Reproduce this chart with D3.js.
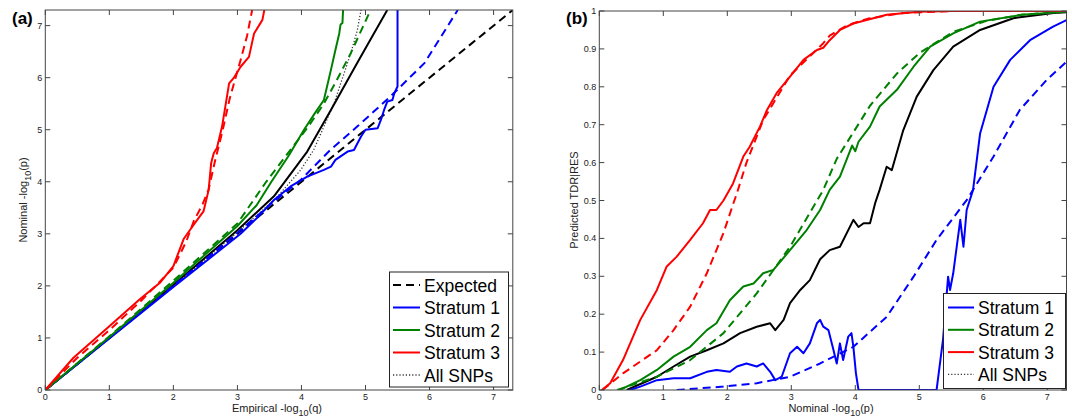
<!DOCTYPE html>
<html><head><meta charset="utf-8">
<script src="https://cdn.jsdelivr.net/npm/d3@7"></script>
<style>
body{margin:0;background:#fff;}
svg{display:block;font-family:"Liberation Sans",Arial,sans-serif;}
</style></head>
<body><svg id="c" width="1072" height="420"></svg>
<script>
// ---------- DATA ----------
const ticksA = [0,1,2,3,4,5,6,7];
const ticksBy = [0,0.1,0.2,0.3,0.4,0.5,0.6,0.7,0.8,0.9,1];
const legendA = ["Expected","Stratum 1","Stratum 2","Stratum 3","All SNPs"];
const legendB = ["Stratum 1","Stratum 2","Stratum 3","All SNPs"];

// panel (a): [empirical -log10(q), nominal -log10(p)]
const expectedA = [[0,0],[7.3,7.3]];
const s1SolidA = [[0,0],[1,0.99],[2,1.98],[3.05,3.0],[3.3,3.3],[3.57,3.65],[3.83,3.91],[4.09,4.1],[4.35,4.23],[4.46,4.29],[4.53,4.42],[4.72,4.58],[4.82,4.61],[4.93,4.87],[5.0,5.0],[5.19,5.03],[5.24,5.19],[5.29,5.38],[5.34,5.54],[5.42,5.57],[5.45,5.7],[5.5,5.83],[5.5,7.3]];
const s1DashA = [[0,0],[1,1.0],[2,2.0],[3,3.02],[3.5,3.55],[4,4.05],[4.45,4.61],[4.87,5.06],[5.39,5.64],[5.92,6.28],[6.44,7.3]];
const s2SolidA = [[0,0],[1,1.02],[2,2.06],[3,3.15],[3.3,3.55],[3.53,4.0],[3.8,4.5],[4.04,5.0],[4.2,5.3],[4.35,5.57],[4.46,6.15],[4.53,6.53],[4.59,6.85],[4.61,7.02],[4.64,7.05],[4.65,7.3]];
const s2DashA = [[0,0],[1,1.03],[2,2.1],[3,3.2],[3.45,4.0],[3.82,4.6],[4.1,5.05],[4.35,5.5],[4.55,5.95],[4.77,6.47],[4.93,6.9],[5.08,7.3]];
const s3SolidA = [[0,0],[0.44,0.62],[0.96,1.18],[1.48,1.75],[1.79,2.06],[2.0,2.38],[2.16,2.9],[2.32,3.18],[2.47,3.43],[2.55,3.84],[2.59,4.36],[2.63,4.55],[2.68,4.65],[2.76,5.06],[2.87,5.89],[2.94,5.99],[3.05,6.21],[3.18,6.4],[3.26,6.85],[3.39,7.11],[3.42,7.3]];
const s3DashA = [[0,0],[0.5,0.62],[1,1.15],[1.5,1.72],[2.0,2.35],[2.2,2.85],[2.32,3.25],[2.45,3.55],[2.55,3.85],[2.65,4.4],[2.76,4.94],[2.88,5.6],[3.05,6.34],[3.15,6.8],[3.23,7.3]];
const allFitA = [[0,0],[1,1.0],[2,2.02],[3,3.07],[3.57,3.72],[4.09,4.58],[4.46,5.38],[4.87,6.28],[5.1,6.78],[5.34,7.3]];
const allSnpsA = [[0,0],[1,1.0],[2,2.0],[3,3.03],[3.6,3.68],[3.99,4.23],[4.19,4.61],[4.51,5.51],[4.77,6.47],[4.87,6.9],[4.93,7.3]];

// panel (b): [nominal -log10(p), predicted TDR|RES]
const s1SolidB = [[0.48,0],[0.64,0.009],[0.9,0.026],[1.16,0.031],[1.42,0.031],[1.68,0.048],[1.83,0.053],[2.04,0.048],[2.15,0.062],[2.3,0.07],[2.46,0.062],[2.56,0.07],[2.67,0.048],[2.75,0.026],[2.85,0.035],[2.98,0.097],[3.09,0.114],[3.19,0.097],[3.29,0.123],[3.4,0.176],[3.45,0.185],[3.5,0.167],[3.58,0.158],[3.66,0.105],[3.71,0.07],[3.76,0.123],[3.81,0.079],[3.89,0.141],[3.94,0.15],[3.97,0.114],[4.01,0.044],[4.05,0],[5.27,0],[5.37,0.132],[5.45,0.299],[5.48,0.264],[5.53,0.308],[5.64,0.449],[5.69,0.378],[5.74,0.475],[5.84,0.528],[5.95,0.677],[6.16,0.8],[6.42,0.871],[6.73,0.923],[7.09,0.959],[7.3,0.976]];
const s1DashB = [[1.21,0],[1.94,0.009],[2.46,0.018],[2.98,0.035],[3.45,0.07],[3.97,0.114],[4.49,0.193],[4.91,0.299],[5.27,0.396],[5.74,0.501],[6.16,0.616],[6.57,0.739],[6.99,0.818],[7.3,0.866]];
const s2SolidB = [[0.32,0],[0.64,0.026],[0.9,0.053],[1.16,0.088],[1.42,0.114],[1.68,0.158],[1.83,0.176],[2.04,0.237],[2.25,0.273],[2.41,0.281],[2.56,0.308],[2.72,0.317],[2.98,0.369],[3.24,0.422],[3.45,0.475],[3.6,0.528],[3.76,0.563],[3.95,0.645],[4.0,0.63],[4.05,0.655],[4.23,0.695],[4.38,0.748],[4.65,0.792],[4.91,0.853],[5.17,0.906],[5.53,0.941],[5.95,0.972],[6.6,0.99],[7.3,0.998]];
const s2DashB = [[0.28,0],[0.9,0.035],[1.42,0.079],[1.94,0.15],[2.46,0.255],[2.98,0.378],[3.5,0.528],[3.71,0.61],[3.97,0.68],[4.23,0.75],[4.65,0.835],[5.01,0.89],[5.53,0.945],[6.05,0.974],[6.6,0.99],[7.3,0.999]];
const s3SolidB = [[0.04,0],[0.17,0.018],[0.37,0.079],[0.64,0.185],[0.9,0.264],[1.05,0.325],[1.21,0.352],[1.42,0.396],[1.62,0.44],[1.73,0.475],[1.83,0.475],[1.94,0.5],[2.09,0.545],[2.25,0.616],[2.35,0.642],[2.51,0.695],[2.62,0.739],[2.77,0.783],[2.98,0.827],[3.19,0.871],[3.4,0.897],[3.5,0.903],[3.6,0.923],[3.76,0.95],[3.97,0.967],[4.49,0.99],[5,0.998],[5.5,1],[7.3,1]];
const s3DashB = [[0.05,0],[0.37,0.044],[0.9,0.105],[1.16,0.158],[1.42,0.22],[1.68,0.308],[1.94,0.414],[2.09,0.49],[2.15,0.519],[2.3,0.6],[2.56,0.712],[2.98,0.83],[3.5,0.915],[3.6,0.935],[3.87,0.962],[4.2,0.98],[4.75,0.995],[5.5,1],[7.3,1]];
const allFitB = [[0.43,0],[0.9,0.035],[1.16,0.062],[1.42,0.088],[1.68,0.105],[1.94,0.123],[2.2,0.15],[2.46,0.167],[2.67,0.176],[2.75,0.158],[2.88,0.185],[2.98,0.229],[3.14,0.264],[3.29,0.29],[3.45,0.345],[3.6,0.369],[3.76,0.378],[3.97,0.449],[4.05,0.43],[4.13,0.44],[4.23,0.44],[4.31,0.493],[4.38,0.528],[4.49,0.589],[4.57,0.58],[4.75,0.686],[4.96,0.774],[5.22,0.844],[5.53,0.906],[5.95,0.95],[6.47,0.981],[7.1,0.995],[7.3,0.997]];

// ---------- DRAW ----------
const svg = d3.select("#c");
const BLUE="#0000ff", GREEN="#008000", RED="#ff0000", BLACK="#000";
const DASH="8,5", DOT="1.2,2";

function panel(id, xs, ys, xTicks, yTicks, yFmt) {
  const g = svg.append("g");
  const [x0,x1] = xs.range(), [y0,y1] = ys.range();
  svg.append("clipPath").attr("id", id).append("rect")
    .attr("x", x0).attr("y", y1).attr("width", x1-x0).attr("height", y0-y1);
  const plot = g.append("g").attr("clip-path", `url(#${id})`);
  const box = g.append("g");
  box.append("rect").attr("x", x0).attr("y", y1).attr("width", x1-x0).attr("height", y0-y1)
    .attr("fill","none").attr("stroke","#444").attr("stroke-width",1);
  const tl = 5;
  xTicks.forEach(t => {
    const px = xs(t);
    box.append("line").attr("x1",px).attr("x2",px).attr("y1",y0).attr("y2",y0-tl).attr("stroke","#444");
    box.append("line").attr("x1",px).attr("x2",px).attr("y1",y1).attr("y2",y1+tl).attr("stroke","#444");
    box.append("text").attr("x",px).attr("y",y0+10).attr("text-anchor","middle")
      .attr("font-size",9).attr("fill","#222").text(t);
  });
  yTicks.forEach(t => {
    const py = ys(t);
    box.append("line").attr("x1",x0).attr("x2",x0+tl).attr("y1",py).attr("y2",py).attr("stroke","#444");
    box.append("line").attr("x1",x1).attr("x2",x1-tl).attr("y1",py).attr("y2",py).attr("stroke","#444");
    box.append("text").attr("x", x0-3).attr("y",py+3).attr("text-anchor","end")
      .attr("font-size",9).attr("fill","#222").text(yFmt(t));
  });
  return plot;
}

function drawLine(plot, xs, ys, data, color, dash, w) {
  const line = d3.line().x(d=>xs(d[0])).y(d=>ys(d[1]));
  plot.append("path").attr("d", line(data)).attr("fill","none")
    .attr("stroke",color).attr("stroke-width",w||2)
    .attr("stroke-dasharray",dash||null).attr("stroke-linejoin","round");
}

function label(x, y, main, sub, tail, rotate) {
  const t = svg.append("text").attr("font-size",11).attr("fill","#222")
    .attr("text-anchor","middle")
    .attr("transform", rotate ? `translate(${x},${y}) rotate(-90)` : `translate(${x},${y})`);
  t.append("tspan").text(main);
  t.append("tspan").attr("dy",4).attr("font-size",9).text(sub);
  t.append("tspan").attr("dy",-4).text(tail);
}

// Panel (a)
const xA = d3.scaleLinear().domain([0,7.3]).range([45.3, 512.8]);
const yA = d3.scaleLinear().domain([0,7.3]).range([390, 10]);
const pA = panel("clipA", xA, yA, ticksA, ticksA, d=>String(d));
drawLine(pA,xA,yA,expectedA,BLACK,DASH);
drawLine(pA,xA,yA,allSnpsA,"#333",DOT,1.3);
drawLine(pA,xA,yA,allFitA,BLACK);
drawLine(pA,xA,yA,s1DashA,BLUE,DASH);
drawLine(pA,xA,yA,s1SolidA,BLUE);
drawLine(pA,xA,yA,s2DashA,GREEN,DASH);
drawLine(pA,xA,yA,s2SolidA,GREEN);
drawLine(pA,xA,yA,s3DashA,RED,DASH);
drawLine(pA,xA,yA,s3SolidA,RED);

label(277, 412, "Empirical -log", "10", "(q)", false);
label(27, 200, "Nominal -log", "10", "(p)", true);
svg.append("text").attr("x",12).attr("y",24).attr("font-size",17).attr("font-weight","bold").text("(a)");

// Panel (b)
const xB = d3.scaleLinear().domain([0,7.3]).range([599.3, 1066.5]);
const yB = d3.scaleLinear().domain([0,1]).range([390, 11]);
const pB = panel("clipB", xB, yB, ticksA, ticksBy, d=>d3.format("~g")(d));
drawLine(pB,xB,yB,allFitB,BLACK);
drawLine(pB,xB,yB,s1DashB,BLUE,DASH);
drawLine(pB,xB,yB,s1SolidB,BLUE);
drawLine(pB,xB,yB,s2DashB,GREEN,DASH);
drawLine(pB,xB,yB,s2SolidB,GREEN);
drawLine(pB,xB,yB,s3DashB,RED,DASH);
drawLine(pB,xB,yB,s3SolidB,RED);

label(831, 412, "Nominal -log", "10", "(p)", false);
svg.append("text").attr("font-size",11).attr("fill","#222").attr("text-anchor","middle")
  .attr("transform","translate(578,200) rotate(-90)").text("Predicted TDR|RES");
svg.append("text").attr("x",566).attr("y",24).attr("font-size",17).attr("font-weight","bold").text("(b)");

// Legends
const legStyle = {
  "Expected":[BLACK,DASH,2], "Stratum 1":[BLUE,null,2], "Stratum 2":[GREEN,null,2],
  "Stratum 3":[RED,null,2], "All SNPs":["#333",DOT,1.3]
};
function legend(items, bx, by, bw, bh, rowY0, rowStep, lx0, lx1, tx) {
  const g = svg.append("g");
  g.append("rect").attr("x",bx).attr("y",by).attr("width",bw).attr("height",bh)
    .attr("fill","#fff").attr("stroke","#222").attr("stroke-width",1);
  items.forEach((name,i)=>{
    const yy = rowY0 + i*rowStep;
    const [c,dsh,w] = legStyle[name];
    g.append("line").attr("x1",lx0).attr("x2",lx1).attr("y1",yy).attr("y2",yy)
      .attr("stroke",c).attr("stroke-width",w).attr("stroke-dasharray",dsh);
    g.append("text").attr("x",tx).attr("y",yy+6.5).attr("font-size",17.5)
      .attr("fill","#000").text(name);
  });
}
legend(legendA, 389.5, 272, 119, 115, 285, 22.5, 393, 420, 424);
legend(legendB, 943.5, 293.5, 122, 95, 307.5, 22.3, 948, 974, 978);
</script></body></html>
